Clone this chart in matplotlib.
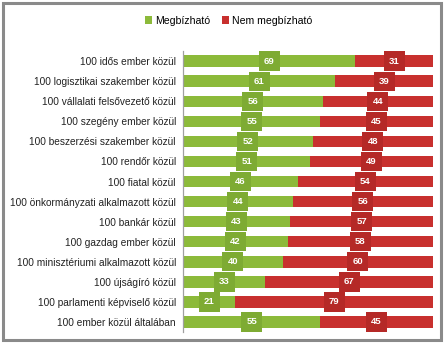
import matplotlib
matplotlib.use("Agg")
import matplotlib.pyplot as plt
from matplotlib.patches import Rectangle, Patch

categories = [
    "100 idős ember közül",
    "100 logisztikai szakember közül",
    "100 vállalati felsővezető közül",
    "100 szegény ember közül",
    "100 beszerzési szakember közül",
    "100 rendőr közül",
    "100 fiatal közül",
    "100 önkormányzati alkalmazott közül",
    "100 bankár közül",
    "100 gazdag ember közül",
    "100 minisztériumi alkalmazott közül",
    "100 újságíró közül",
    "100 parlamenti képviselő közül",
    "100 ember közül általában",
]
megbizhato = [69, 61, 56, 55, 52, 51, 46, 44, 43, 42, 40, 33, 21, 55]
nem_megbizhato = [31, 39, 44, 45, 48, 49, 54, 56, 57, 58, 60, 67, 79, 45]
series_names = ["Megbízható", "Nem megbízható"]

green = "#8cba3a"
green_dark = "#7eab33"
red = "#c8302e"
red_dark = "#b52927"

plt.rcParams['font.family'] = ['Liberation Sans', 'DejaVu Sans']

fig = plt.figure(figsize=(4.44, 3.43), dpi=100)
fig.patches.append(Rectangle((0.006, 0.008), 0.988, 0.984, transform=fig.transFigure,
                             fill=False, edgecolor="#8a8a8a", linewidth=2.2))
ax = fig.add_axes([0.412, 0.032, 0.563, 0.819])

y = list(range(len(categories)))
ax.barh(y, megbizhato, height=0.57, color=green, edgecolor="none")
ax.barh(y, nem_megbizhato, left=megbizhato, height=0.57, color=red, edgecolor="none")

for i, (g, r) in enumerate(zip(megbizhato, nem_megbizhato)):
    ax.text(g / 2, i, str(g), ha="center", va="center", color="white", fontsize=6.8,
            fontweight="bold",
            bbox=dict(boxstyle="square,pad=0.55", facecolor=green_dark, edgecolor="none"))
    ax.text(g + r / 2, i, str(r), ha="center", va="center", color="white", fontsize=6.8,
            fontweight="bold",
            bbox=dict(boxstyle="square,pad=0.55", facecolor=red_dark, edgecolor="none"))

ax.set_xlim(0, 100)
ax.set_ylim(len(categories) - 0.5, -0.5)
ax.set_yticks(y)
ax.set_yticklabels(categories, fontsize=7.3, color="#222222")
ax.tick_params(axis="y", length=0, pad=5)
ax.set_xticks([])
for s in ["top", "right", "bottom"]:
    ax.spines[s].set_visible(False)
ax.spines["left"].set_color("#a0a0a0")
ax.spines["left"].set_linewidth(0.9)

handles = [Patch(facecolor=green, edgecolor="none"), Patch(facecolor=red, edgecolor="none")]
fig.legend(handles, series_names, loc="center", bbox_to_anchor=(0.515, 0.94), ncol=2,
           frameon=False, fontsize=7.6, handlelength=0.7, handleheight=0.7,
           handletextpad=0.3, columnspacing=1.1)

fig.savefig("out.png", dpi=100)
